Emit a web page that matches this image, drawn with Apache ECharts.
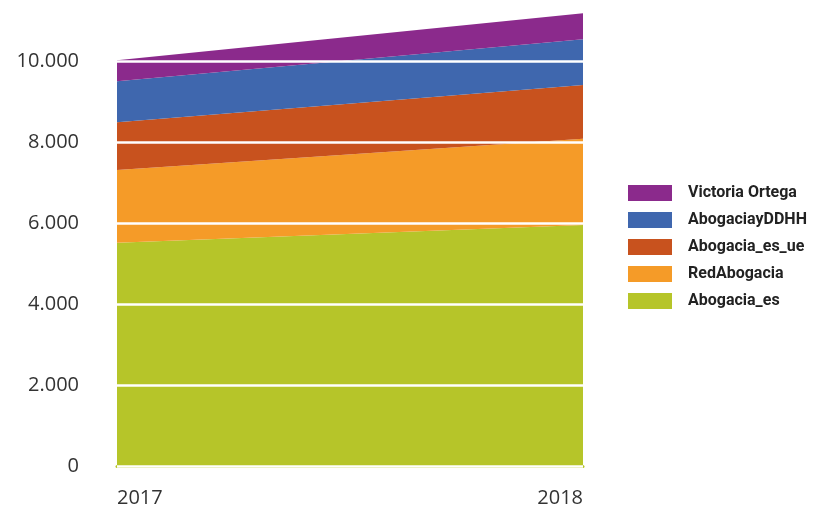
<!DOCTYPE html>
<html>
<head>
<meta charset="utf-8">
<script src="https://cdn.jsdelivr.net/npm/echarts@6/dist/echarts.min.js"></script>
<style>
  html, body { margin: 0; padding: 0; background: #fff; }
  #chart { width: 829px; height: 511px; }
</style>
</head>
<body>
<div id="chart"></div>
<script>
  // datos
  const years = ['2017', '2018'];
  const abogaciaEs = [5510, 5950];
  const redAbogacia = [1800, 2130];
  const abogaciaEsUe = [1180, 1330];
  const abogaciayDDHH = [1010, 1130];
  const victoriaOrtega = [520, 640];

  const colors = {
    'Abogacia_es': '#B6C529',
    'RedAbogacia': '#F59B28',
    'Abogacia_es_ue': '#C8521E',
    'AbogaciayDDHH': '#3F67AE',
    'Victoria Ortega': '#8B2A8C'
  };

  function areaSerie(name, values) {
    return {
      name: name,
      type: 'line',
      stack: 'total',
      data: values,
      showSymbol: false,
      lineStyle: {width: 0},
      areaStyle: {color: colors[name], opacity: 1},
      itemStyle: {color: colors[name]},
      z: 2
    };
  }

  const chart = echarts.init(document.getElementById('chart'));
  chart.setOption({
    animation: false,
    grid: {left: 117, right: 246, top: 4.3, bottom: 45},
    legend: {
      orient: 'vertical',
      left: 623,
      top: 180,
      icon: 'rect',
      itemWidth: 44,
      itemHeight: 16,
      itemGap: 11,
      data: ['Victoria Ortega', 'AbogaciayDDHH', 'Abogacia_es_ue', 'RedAbogacia', 'Abogacia_es'],
      textStyle: {
        fontFamily: 'Roboto',
        fontWeight: 'bold',
        fontSize: 16,
        color: '#222',
        padding: [0, 0, 0, 11]
      }
    },
    xAxis: {
      type: 'category',
      data: years,
      boundaryGap: false,
      axisTick: {show: false},
      axisLine: {show: true, onZero: false, offset: 2, lineStyle: {color: '#B6C529', width: 3}},
      axisLabel: {
        fontFamily: 'Open Sans',
        fontSize: 20,
        color: '#333',
        margin: 22,
        alignMinLabel: 'left',
        alignMaxLabel: 'right'
      }
    },
    yAxis: {
      type: 'value',
      min: 0,
      max: 11400,
      interval: 2000,
      z: 5,
      axisLine: {show: false},
      axisTick: {show: false},
      splitLine: {lineStyle: {color: '#fff', width: 2.5}},
      axisLabel: {
        fontFamily: 'Open Sans',
        fontSize: 20,
        color: '#333',
        margin: 38,
        padding: [4, 0, 0, 0],
        formatter: function (v) {
          if (v % 2000 !== 0) return '';
          return String(v).replace(/\B(?=(\d{3})+(?!\d))/g, '.');
        }
      }
    },
    series: [
      areaSerie('Abogacia_es', abogaciaEs),
      areaSerie('RedAbogacia', redAbogacia),
      areaSerie('Abogacia_es_ue', abogaciaEsUe),
      areaSerie('AbogaciayDDHH', abogaciayDDHH),
      areaSerie('Victoria Ortega', victoriaOrtega)
    ]
  });
</script>
</body>
</html>
